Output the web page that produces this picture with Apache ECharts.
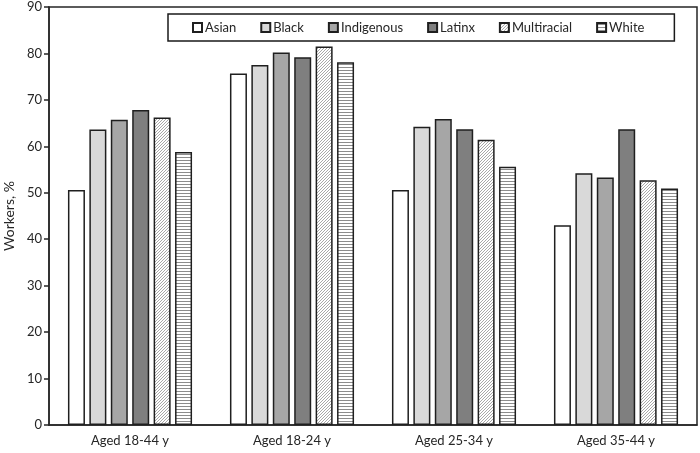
<!DOCTYPE html>
<html>
<head>
<meta charset="utf-8">
<script src="https://cdn.jsdelivr.net/npm/echarts@6/dist/echarts.min.js"></script>
<style>html,body{margin:0;padding:0;background:#fff}#c{width:700px;height:453px}</style>
</head>
<body>
<div id="c"></div>
<script>
const categories = ['Aged 18-44 y', 'Aged 18-24 y', 'Aged 25-34 y', 'Aged 35-44 y'];
const seriesNames = ['Asian', 'Black', 'Indigenous', 'Latinx', 'Multiracial', 'White'];
const asian = [50.6, 75.7, 50.6, 43.0];
const black = [63.6, 77.5, 64.2, 54.2];
const indigenous = [65.7, 80.2, 65.9, 53.3];
const latinx = [67.8, 79.2, 63.7, 63.7];
const multiracial = [66.2, 81.5, 61.4, 52.7];
const white = [58.8, 78.1, 55.6, 50.9];
const yTicks = [0, 10, 20, 30, 40, 50, 60, 70, 80, 90];

function makePattern(kind) {
  const c = document.createElement('canvas');
  if (kind === 'diag') {
    c.width = 3; c.height = 3;
    const g = c.getContext('2d');
    g.fillStyle = '#ffffff'; g.fillRect(0, 0, 3, 3);
    g.fillStyle = '#a8a8a8';
    g.fillRect(2, 0, 1, 1); g.fillRect(1, 1, 1, 1); g.fillRect(0, 2, 1, 1);
  } else {
    c.width = 4; c.height = 3;
    const g = c.getContext('2d');
    g.fillStyle = '#ffffff'; g.fillRect(0, 0, 4, 3);
    g.fillStyle = '#8c8c8c'; g.fillRect(0, 1, 4, 1);
  }
  return { image: c, repeat: 'repeat' };
}

const fills = ['#ffffff', '#d9d9d9', '#a6a6a6', '#7f7f7f', makePattern('diag'), makePattern('horiz')];
const values = [asian, black, indigenous, latinx, multiracial, white];
const font = 'Lato, "Open Sans", sans-serif';

const chart = echarts.init(document.getElementById('c'), null, { renderer: 'canvas' });
chart.setOption({
  animation: false,
  backgroundColor: '#ffffff',
  grid: { left: 49, right: 3, top: 7, bottom: 28, show: true, borderColor: '#262626', borderWidth: 1.5,
    containLabel: false, outerBoundsMode: 'none' },
  legend: {
    data: seriesNames,
    left: 168, top: 14,
    padding: [7, 30, 7, 24],
    itemGap: 24,
    itemWidth: 9, itemHeight: 9,
    borderColor: '#1a1a1a', borderWidth: 1.5,
    textStyle: { fontFamily: font, fontSize: 13, color: '#262626', padding: [0, 0, 0, -2] },
    icon: 'rect'
  },
  xAxis: {
    type: 'category',
    data: categories,
    axisLine: { lineStyle: { color: '#262626', width: 1.5 } },
    axisTick: { show: false },
    axisLabel: { fontFamily: font, fontSize: 13, color: '#262626', margin: 9 }
  },
  yAxis: {
    type: 'value',
    min: 0, max: 90, interval: 10,
    name: 'Workers, %',
    nameLocation: 'middle',
    nameGap: 29,
    nameTextStyle: { fontFamily: font, fontSize: 14, color: '#262626' },
    axisLine: { show: true, lineStyle: { color: '#262626', width: 1.5 } },
    axisTick: { show: true, length: 5, lineStyle: { color: '#262626', width: 1.5 } },
    splitLine: { show: false },
    axisLabel: { fontFamily: font, fontSize: 13, color: '#262626', margin: 7,
      formatter: v => yTicks.includes(v) ? String(v) : '' }
  },
  series: seriesNames.map((n, i) => ({
    name: n,
    type: 'bar',
    data: values[i],
    barWidth: 17,
    barGap: '26%',
    itemStyle: { color: fills[i], borderColor: '#1f1f1f', borderWidth: 1.5 }
  }))
});
</script>
</body>
</html>
